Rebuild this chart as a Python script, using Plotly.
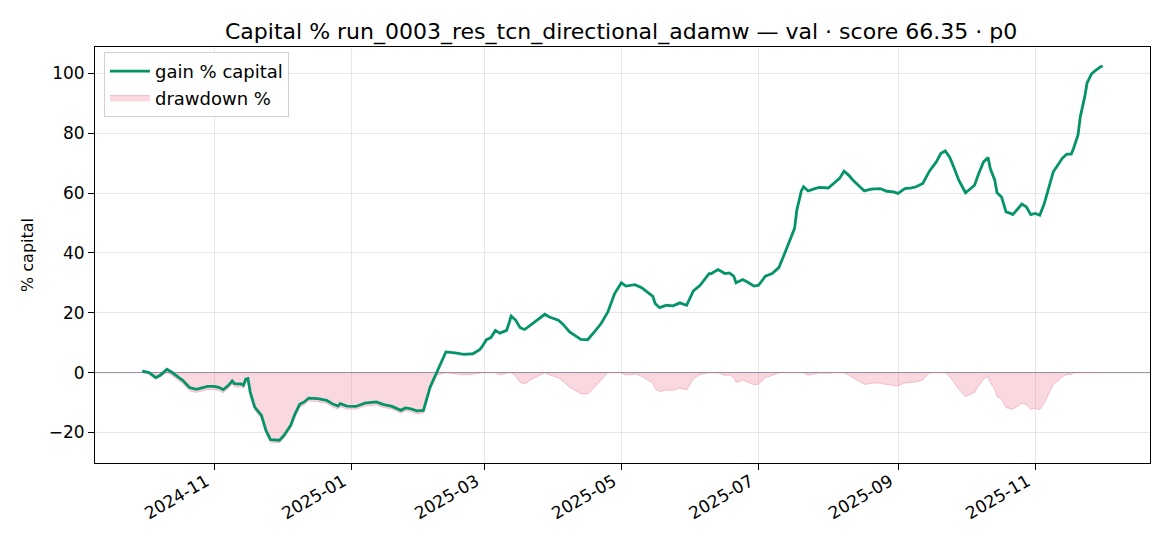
import numpy as np
import plotly.graph_objects as go

dates = [
    "2024-09-30", "2024-10-03", "2024-10-06", "2024-10-08", "2024-10-11", "2024-10-13",
    "2024-10-16", "2024-10-18", "2024-10-21", "2024-10-24", "2024-10-27", "2024-10-29",
    "2024-11-01", "2024-11-03", "2024-11-05", "2024-11-07", "2024-11-09", "2024-11-10",
    "2024-11-13", "2024-11-14", "2024-11-15", "2024-11-16", "2024-11-17", "2024-11-19",
    "2024-11-22", "2024-11-24", "2024-11-26", "2024-11-30", "2024-12-02", "2024-12-05",
    "2024-12-07", "2024-12-09", "2024-12-11", "2024-12-13", "2024-12-17", "2024-12-21",
    "2024-12-24", "2024-12-26", "2024-12-27", "2024-12-30", "2025-01-03", "2025-01-07",
    "2025-01-12", "2025-01-15", "2025-01-19", "2025-01-23", "2025-01-25", "2025-01-27",
    "2025-01-30", "2025-02-02", "2025-02-05", "2025-02-08", "2025-02-12", "2025-02-16",
    "2025-02-20", "2025-02-24", "2025-02-27", "2025-02-28", "2025-03-02", "2025-03-04",
    "2025-03-06", "2025-03-08", "2025-03-11", "2025-03-12", "2025-03-13", "2025-03-15",
    "2025-03-17", "2025-03-19", "2025-03-22", "2025-03-25", "2025-03-28", "2025-03-30",
    "2025-04-03", "2025-04-05", "2025-04-08", "2025-04-13", "2025-04-16", "2025-04-19",
    "2025-04-22", "2025-04-25", "2025-04-28", "2025-05-01", "2025-05-03", "2025-05-07",
    "2025-05-10", "2025-05-12", "2025-05-15", "2025-05-16", "2025-05-18", "2025-05-21",
    "2025-05-24", "2025-05-27", "2025-05-30", "2025-06-02", "2025-06-05", "2025-06-09",
    "2025-06-10", "2025-06-13", "2025-06-16", "2025-06-18", "2025-06-20", "2025-06-21",
    "2025-06-24", "2025-06-26", "2025-06-29", "2025-07-01", "2025-07-04", "2025-07-07",
    "2025-07-10", "2025-07-12", "2025-07-14", "2025-07-17", "2025-07-18", "2025-07-20",
    "2025-07-21", "2025-07-23", "2025-07-26", "2025-07-28", "2025-08-01", "2025-08-03",
    "2025-08-06", "2025-08-08", "2025-08-10", "2025-08-12", "2025-08-15", "2025-08-17",
    "2025-08-20", "2025-08-24", "2025-08-27", "2025-08-30", "2025-09-01", "2025-09-04",
    "2025-09-07", "2025-09-09", "2025-09-12", "2025-09-15", "2025-09-18", "2025-09-20",
    "2025-09-22", "2025-09-24", "2025-09-26", "2025-09-28", "2025-10-01", "2025-10-05",
    "2025-10-07", "2025-10-09", "2025-10-11", "2025-10-12", "2025-10-14", "2025-10-15",
    "2025-10-17", "2025-10-19", "2025-10-21", "2025-10-22", "2025-10-24", "2025-10-26",
    "2025-10-28", "2025-10-30", "2025-11-01", "2025-11-03", "2025-11-05", "2025-11-07",
    "2025-11-09", "2025-11-11", "2025-11-13", "2025-11-15", "2025-11-17", "2025-11-18",
    "2025-11-20", "2025-11-21", "2025-11-23", "2025-11-24", "2025-11-26", "2025-11-28",
    "2025-11-30", "2025-12-01",
]

gain_pct = [
    0.5, 0.0, -1.7, -0.9, 1.1, 0.2,
    -1.5, -2.6, -5.0, -5.6, -5.0, -4.6,
    -4.6, -4.9, -5.7, -4.5, -2.8, -3.7,
    -3.8, -4.2, -2.2, -2.0, -6.5, -11.5,
    -14.3, -19.3, -22.4, -22.6, -21.0, -17.6,
    -13.7, -10.6, -9.8, -8.5, -8.7, -9.3,
    -10.6, -11.2, -10.4, -11.2, -11.3, -10.2,
    -9.8, -10.6, -11.3, -12.6, -11.8, -12.0,
    -12.8, -12.6, -4.8, 0.2, 6.9, 6.6,
    6.1, 6.3, 7.7, 8.6, 11.0, 11.7,
    14.1, 13.2, 14.1, 16.4, 18.9, 17.5,
    15.0, 14.4, 16.2, 17.7, 19.5, 18.6,
    17.5, 16.2, 13.6, 11.1, 11.0, 13.6,
    16.4, 20.3, 26.4, 30.0, 28.9, 29.4,
    28.4, 27.2, 25.5, 23.1, 21.7, 22.5,
    22.3, 23.3, 22.5, 27.3, 29.2, 33.1,
    33.1, 34.4, 33.1, 33.3, 32.2, 30.0,
    31.1, 30.3, 28.9, 29.2, 32.2, 33.1,
    35.1, 38.7, 42.6, 48.2, 54.3, 60.7,
    62.1, 60.7, 61.5, 61.9, 61.7, 62.9,
    64.9, 67.3, 66.0, 64.3, 62.3, 60.7,
    61.3, 61.5, 60.6, 60.4, 59.9, 61.5,
    61.7, 62.1, 63.2, 67.4, 70.4, 73.2,
    74.1, 71.9, 68.2, 64.3, 60.1, 62.6,
    66.8, 70.4, 71.9, 68.2, 64.3, 60.1,
    58.7, 53.7, 53.2, 52.8, 54.5, 56.3,
    55.4, 52.8, 53.2, 52.6, 56.5, 62.1,
    67.1, 69.3, 71.6, 73.0, 73.0, 74.9,
    79.4, 85.5, 92.2, 96.7, 99.8, 101.1,
    102.2, 102.4,
]

y_ticks = [-20, 0, 20, 40, 60, 80, 100]

title_text = "Capital % run_0003_res_tcn_directional_adamw — val · score 66.35 · p0"

# drawdown derived from the gain series (equity relative to running peak)
equity = 1 + np.array(gain_pct) / 100.0
peak = np.maximum.accumulate(equity)
drawdown_pct = (equity / peak - 1) * 100.0

FONT = "DejaVu Sans"

fig = go.Figure()

fig.add_trace(go.Scatter(
    x=dates, y=drawdown_pct, mode="lines", name="drawdown %",
    fill="tozeroy", fillcolor="rgba(232,100,130,0.25)",
    line=dict(color="rgba(232,100,130,0.35)", width=1),
    legendrank=2,
))
fig.add_trace(go.Scatter(
    x=dates, y=gain_pct, mode="lines", name="gain % capital",
    line=dict(color="#05946a", width=2.8),
    legendrank=1,
))

fig.add_shape(type="line", xref="paper", x0=0, x1=1, yref="y", y0=0, y1=0,
              line=dict(color="rgba(110,115,150,0.7)", width=1), layer="below")

fig.update_layout(
    width=1170, height=546,
    margin=dict(l=87, r=28, t=39, b=91),
    paper_bgcolor="white", plot_bgcolor="white",
    font=dict(family=FONT, size=17, color="black"),
    title=dict(text=title_text, x=0.524, xanchor="center", y=0.958, yanchor="middle",
               font=dict(family=FONT, size=22, color="black")),
    showlegend=True,
    legend=dict(x=0.0085, y=0.988, xanchor="left", yanchor="top",
                bgcolor="rgba(255,255,255,0.85)", bordercolor="rgba(0,0,0,0.18)",
                borderwidth=1, font=dict(family=FONT, size=18),
                itemwidth=40, tracegroupgap=2),
)

fig.update_xaxes(
    type="date", range=["2024-09-09", "2025-12-22"],
    tick0="2024-11-01", dtick="M2", tickformat="%Y-%m", tickangle=-30,
    ticks="outside", ticklen=6, tickwidth=1, tickcolor="black",
    ticklabelshift=-8, ticklabelstandoff=-5,
    showline=True, linecolor="black", linewidth=1, mirror=True,
    showgrid=True, gridcolor="rgba(0,0,0,0.09)", gridwidth=1,
    zeroline=False, tickfont=dict(family=FONT, size=17),
)
fig.update_yaxes(
    range=[-30.2, 108.8], tickvals=y_ticks,
    ticks="outside", ticklen=6, tickwidth=1, tickcolor="black",
    showline=True, linecolor="black", linewidth=1, mirror=True,
    showgrid=True, gridcolor="rgba(0,0,0,0.09)", gridwidth=1,
    zeroline=False, tickfont=dict(family=FONT, size=17),
    title=dict(text="% capital", font=dict(family=FONT, size=16), standoff=11),
)

fig.write_html("out.html")
